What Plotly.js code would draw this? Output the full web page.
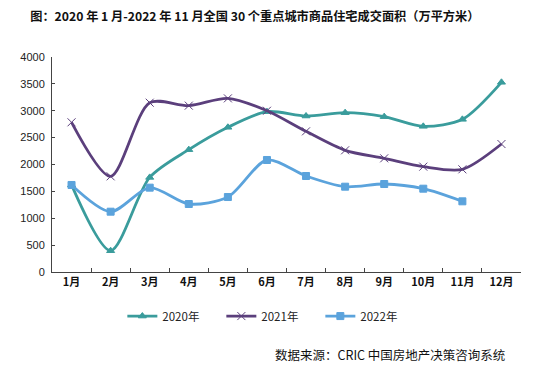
<!DOCTYPE html>
<html><head><meta charset="utf-8">
<script src="https://cdn.plot.ly/plotly-3.0.1.min.js"></script>
<style>html,body{margin:0;padding:0;background:#fff;}#chart{width:550px;height:371px;}</style>
</head><body><div id="chart"></div>
<script>
const months = ["1月","2月","3月","4月","5月","6月","7月","8月","9月","10月","11月","12月"];
const y2020 = [1620, 396, 1760, 2276, 2692, 2983, 2902, 2964, 2890, 2710, 2840, 3529];
const y2021 = [2785, 1780, 3150, 3095, 3230, 3000, 2617, 2264, 2115, 1960, 1910, 2381];
const y2022 = [1619, 1122, 1569, 1265, 1395, 2084, 1786, 1587, 1637, 1550, 1315];
const yTicks = [0, 500, 1000, 1500, 2000, 2500, 3000, 3500, 4000];

const cjk = '"Noto Sans CJK SC", "Noto Sans", sans-serif';
function tr(name, y, color, sym, msize) {
  return {
    x: months.slice(0, y.length), y: y, name: name, type: 'scatter', mode: 'lines+markers',
    line: {color: color, width: 2.8, shape: 'spline', smoothing: 0.8},
    marker: {symbol: sym, size: msize, color: color, line: {color: color, width: 1}}
  };
}
const data = [
  tr('2020年', y2020, '#3a9c9c', 'triangle-up', 7),
  tr('2021年', y2021, '#5b3f7c', 'x-thin-open', 8),
  tr('2022年', y2022, '#5ba3dc', 'square', 7)
];
const layout = {
  width: 550, height: 371,
  margin: {l: 52, r: 29, t: 57, b: 99},
  paper_bgcolor: '#fff', plot_bgcolor: '#fff',
  showlegend: true,
  legend: {orientation: 'h', x: 0.15, xanchor: 'left', y: -0.205, yanchor: 'middle',
    font: {family: cjk, size: 11.5, color: '#222'}, itemwidth: 30, entrywidth: 54, tracegroupgap: 0},
  title: {text: '图：2020 年 1 月-2022 年 11 月全国 30 个重点城市商品住宅成交面积（万平方米）',
    x: 0.055, xanchor: 'left', y: 0.955, yanchor: 'middle',
    font: {family: cjk, size: 12.2, color: '#111', weight: 'bold'}},
  xaxis: {type: 'category', tickson: 'boundaries', ticks: 'inside', ticklen: 4, tickcolor: '#444',
    showline: true, linecolor: '#444', linewidth: 1, showgrid: false, zeroline: false,
    tickfont: {family: cjk, size: 11, color: '#111', weight: 'bold'}, range: [-0.5, 11.5], fixedrange: true},
  yaxis: {range: [0, 4000], tickvals: yTicks, ticks: 'inside', ticklen: 3, tickcolor: '#444',
    showline: true, linecolor: '#444', linewidth: 1, showgrid: false, zeroline: false,
    tickfont: {family: 'Liberation Sans, Arial, sans-serif', size: 11, color: '#222'}, ticklabelstandoff: 4},
  annotations: [{text: '数据来源：CRIC 中国房地产决策咨询系统', xref: 'paper', yref: 'paper',
    x: 0.97, xanchor: 'right', y: -0.385, yanchor: 'middle', showarrow: false,
    font: {family: cjk, size: 12.5, color: '#111'}}]
};
Plotly.newPlot('chart', data, layout, {displayModeBar: false, staticPlot: true});
</script></body></html>
